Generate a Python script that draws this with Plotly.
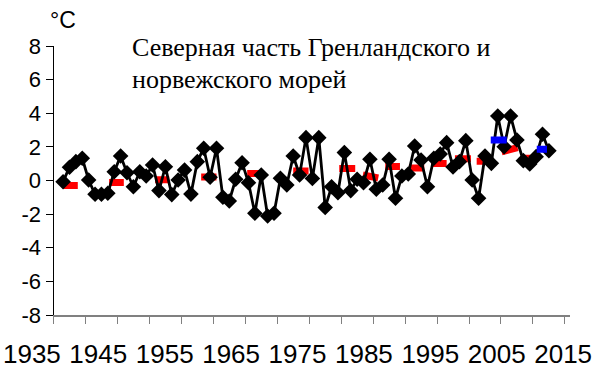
import plotly.graph_objects as go

# Annual temperature anomaly, °C
years = list(range(1936, 2013))
anomaly = [
    -0.07, 0.79, 1.12, 1.32, 0.03, -0.82, -0.82, -0.76, 0.52, 1.46,
    0.46, -0.37, 0.52, 0.27, 0.92, -0.60, 0.82, -0.84, 0.03, 0.62,
    -0.81, 1.12, 1.92, 0.19, 1.92, -1.00, -1.22, 0.07, 1.06, -0.13,
    -1.95, 0.33, -2.11, -1.95, 0.13, -0.27, 1.46, 0.33, 2.55, 0.12,
    2.55, -1.60, -0.37, -0.73, 1.66, -0.60, 0.07, -0.13, 1.26, -0.52,
    -0.27, 1.26, -1.06, 0.27, 0.39, 2.05, 1.22, -0.37, 1.32, 1.58,
    2.25, 0.80, 1.12, 2.37, 0.03, -1.06, 1.46, 1.02, 3.84, 2.01,
    3.84, 2.41, 1.18, 0.98, 1.42, 2.75, 1.77,
]

# Period means (red): start, end, value at start, value at end
red_start = [1936.0, 1943.2, 1950.4, 1957.6, 1964.8, 1972.0, 1979.2, 1982.9,
             1986.4, 1990.1, 1993.6, 1997.3, 2000.7, 2004.6, 2008.0]
red_end = [1938.3, 1945.5, 1952.6, 1960.0, 1967.2, 1974.4, 1981.7, 1985.3,
           1988.7, 1992.5, 1996.0, 1999.8, 2003.2, 2007.1, 2010.2]
red_v0 = [-0.30, -0.12, 0.05, 0.21, 0.42, 0.57, 0.72, 0.33,
          0.83, 0.74, 1.01, 1.30, 1.15, 1.70, 1.32]
red_v1 = [-0.30, -0.12, 0.05, 0.21, 0.42, 0.57, 0.72, 0.15,
          0.83, 0.74, 1.01, 1.30, 1.15, 1.95, 1.32]

# Recent period means (blue)
blue_start = [2002.9, 2010.1]
blue_end = [2005.4, 2011.7]
blue_v0 = [2.41, 1.86]
blue_v1 = [2.41, 1.86]

# Tick marks on category boundaries every 5 years
tick_pos = [1934.5 + 5 * k for k in range(17)]
# Decade labels set in a row beneath the axis
label_years = list(range(1935, 2016, 10))
label_text = [str(y) for y in label_years]
y_ticks = list(range(-8, 9, 2))
y_text = [str(v) for v in y_ticks]


def segments(starts, ends, v0, v1):
    xs, ys = [], []
    for a, b, p, q in zip(starts, ends, v0, v1):
        xs += [a, b, None]
        ys += [p, q, None]
    return xs, ys


fig = go.Figure()

# Empty carrier trace so the decade-label axis is laid out
fig.add_trace(go.Scatter(x=label_years, y=[None] * len(label_years),
                         xaxis="x2", yaxis="y", mode="markers",
                         hoverinfo="skip", showlegend=False))

rx, ry = segments(red_start, red_end, red_v0, red_v1)
fig.add_trace(go.Scatter(x=rx, y=ry, mode="lines",
                         line=dict(color="#FF0000", width=7),
                         hoverinfo="skip", showlegend=False))

fig.add_trace(go.Scatter(x=years, y=anomaly, mode="lines+markers",
                         line=dict(color="black", width=2.8),
                         marker=dict(symbol="diamond", size=12, color="black"),
                         showlegend=False))

bx, by = segments(blue_start, blue_end, blue_v0, blue_v1)
fig.add_trace(go.Scatter(x=bx, y=by, mode="lines",
                         line=dict(color="#0000FF", width=7),
                         hoverinfo="skip", showlegend=False))

serif = "Liberation Serif, Times New Roman, serif"
W = 596.0

fig.update_layout(
    width=596, height=372,
    margin=dict(l=0, r=0, t=46, b=57),
    paper_bgcolor="white", plot_bgcolor="rgba(0,0,0,0)",
    font=dict(family="Arial, Liberation Sans, sans-serif", color="black"),
    xaxis=dict(domain=[53.5 / W, 570 / W], range=[1934.5, 2015.3],
               tickmode="array", tickvals=tick_pos, showticklabels=False,
               showgrid=False, zeroline=False, automargin=False,
               showline=True, linecolor="#808080", linewidth=1.5,
               ticks="outside", ticklen=7, tickcolor="#808080", tickwidth=1),
    xaxis2=dict(domain=[0, 1], range=[1930.2, 2019.95], anchor="y",
                tickmode="array", tickvals=label_years, ticktext=label_text,
                showgrid=False, zeroline=False, showline=False, ticks="",
                automargin=False, tickfont=dict(size=26),
                ticklabelstandoff=21),
    yaxis=dict(range=[-8, 8], tickmode="array", tickvals=y_ticks,
               ticktext=y_text, showgrid=False, zeroline=False,
               automargin=False, anchor="x",
               showline=True, linecolor="black", linewidth=1,
               ticks="outside", ticklen=7, tickcolor="black",
               tickfont=dict(size=22)),
    annotations=[
        dict(text="°C", xref="paper", yref="paper", x=63 / W, y=1.097,
             xanchor="center", yanchor="middle", showarrow=False,
             font=dict(size=23)),
        dict(text="Северная часть Гренландского и", xref="paper", yref="paper",
             x=130 / W, y=0.996, xanchor="left", yanchor="middle",
             showarrow=False, font=dict(family=serif, size=26)),
        dict(text="норвежского морей", xref="paper", yref="paper",
             x=130 / W, y=0.874, xanchor="left", yanchor="middle",
             showarrow=False, font=dict(family=serif, size=26)),
    ],
)

fig.write_html("out.html")
